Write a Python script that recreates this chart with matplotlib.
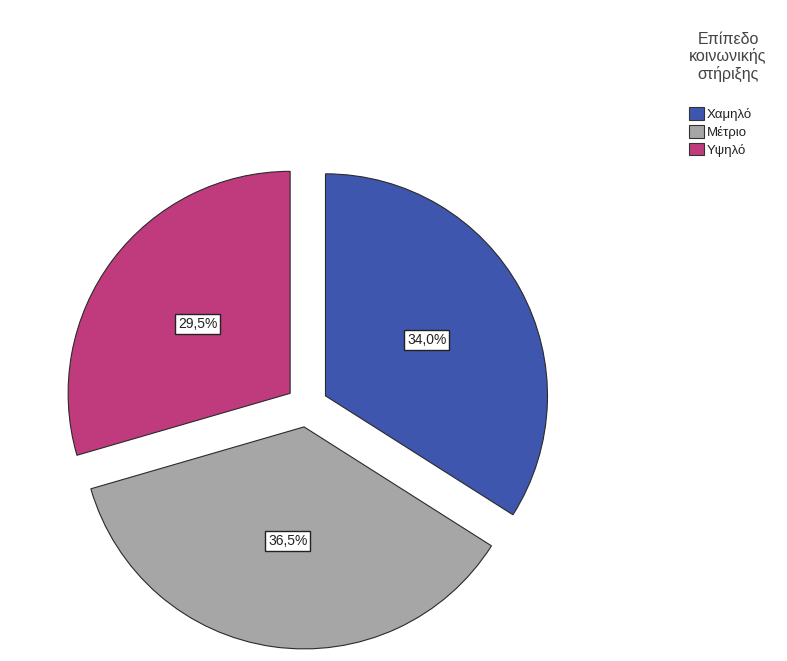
import matplotlib.pyplot as plt
from matplotlib.patches import Patch

categories = ["Χαμηλό", "Μέτριο", "Υψηλό"]
shares = [34.0, 36.5, 29.5]
colors = ["#3E56AE", "#A6A6A6", "#BF3B7E"]
legend_title = "Επίπεδο\nκοινωνικής\nστήριξης"

plt.rcParams["font.family"] = ["Liberation Sans", "DejaVu Sans"]

fig = plt.figure(figsize=(7.87, 6.61), dpi=100)
ax = fig.add_axes([0, 0, 1, 1])

R = 222.0  # pixels per radius unit
cx, cy = 307.0, 406.0

wedges, texts, autotexts = ax.pie(
    shares,
    colors=colors,
    startangle=90,
    counterclock=False,
    explode=[0.095] * 3,
    autopct=lambda p: f"{p:.1f}%".replace(".", ","),
    pctdistance=0.52,
    wedgeprops=dict(edgecolor="#2a2a2a", linewidth=0.8),
    textprops=dict(fontsize=10, color="#222222"),
)
for t in autotexts:
    t.set_bbox(dict(boxstyle="square,pad=0.2", facecolor="white",
                    edgecolor="#222222", linewidth=1.0))

ax.set_xlim(-cx / R, (787 - cx) / R)
ax.set_ylim(-(661 - cy) / R, cy / R)
ax.set_aspect("auto")
ax.axis("off")

fig.text(728 / 787, 1 - 32 / 661, legend_title, ha="center", va="top",
         fontsize=11.5, color="#444444", linespacing=1.1)

handles = [Patch(facecolor=c, edgecolor="#333333", linewidth=0.8) for c in colors]
leg = fig.legend(
    handles, categories,
    loc="upper left",
    bbox_to_anchor=(680 / 787, 1 - 98 / 661),
    frameon=False,
    fontsize=9.5,
    handlelength=1.1,
    handleheight=1.1,
    handletextpad=0.2,
    labelspacing=0.3,
    borderpad=0.2,
)
for t in leg.get_texts():
    t.set_color("#222222")

fig.savefig("out.png", dpi=100, facecolor="white")
